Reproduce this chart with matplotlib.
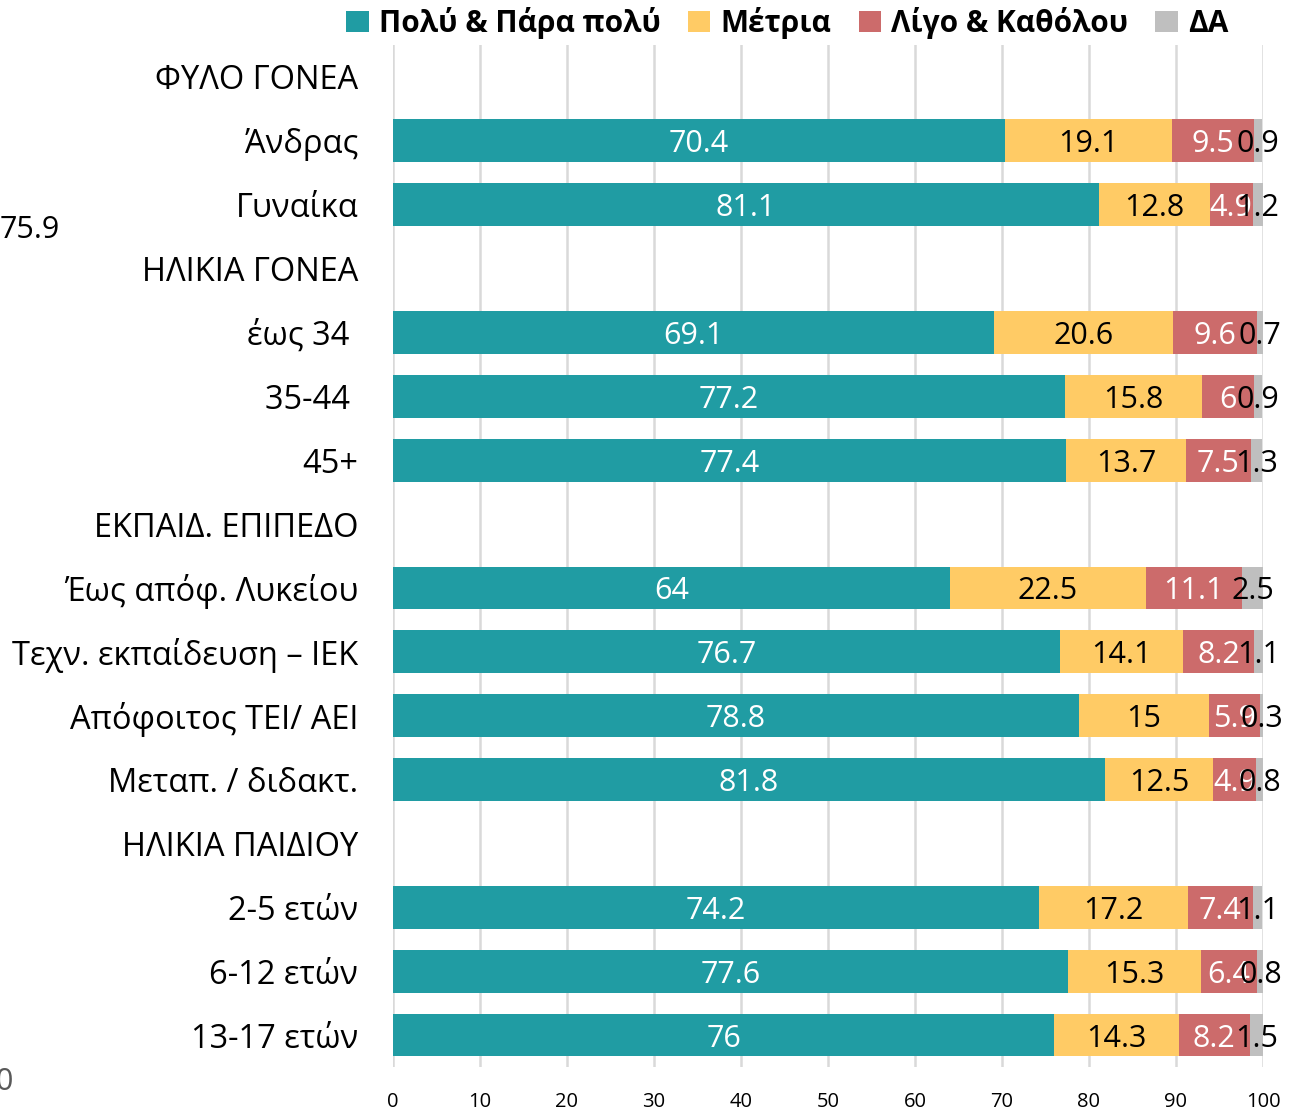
import matplotlib
matplotlib.use("Agg")
import matplotlib.pyplot as plt
from matplotlib.patches import Patch

plt.rcParams["font.family"] = ["Open Sans", "DejaVu Sans"]

# =============================================================================
# Data
# =============================================================================

labels = [
    "ΦΥΛΟ ΓΟΝΕΑ", "Άνδρας", "Γυναίκα",
    "ΗΛΙΚΙΑ ΓΟΝΕΑ", "έως 34 ", "35-44 ", "45+",
    "ΕΚΠΑΙΔ. ΕΠΙΠΕΔΟ", "Έως απόφ. Λυκείου", "Τεχν. εκπαίδευση – ΙΕΚ",
    "Απόφοιτος ΤΕΙ/ ΑΕΙ", "Μεταπ. / διδακτ.",
    "ΗΛΙΚΙΑ ΠΑΙΔΙΟΥ", "2-5 ετών", "6-12 ετών", "13-17 ετών",
]

# None = header row without a bar
poly   = [None, 70.4, 81.1, None, 69.1, 77.2, 77.4, None, 64, 76.7, 78.8, 81.8, None, 74.2, 77.6, 76]
metria = [None, 19.1, 12.8, None, 20.6, 15.8, 13.7, None, 22.5, 14.1, 15, 12.5, None, 17.2, 15.3, 14.3]
ligo   = [None, 9.5, 4.9, None, 9.6, 6, 7.5, None, 11.1, 8.2, 5.9, 4.9, None, 7.4, 6.4, 8.2]
da     = [None, 0.9, 1.2, None, 0.7, 0.9, 1.3, None, 2.5, 1.1, 0.3, 0.8, None, 1.1, 0.8, 1.5]

series_names = ["Πολύ & Πάρα πολύ", "Μέτρια", "Λίγο & Καθόλου", "ΔΑ"]
colors       = ["#209ca3", "#ffcb65", "#cc6b6b", "#bfbfbf"]
label_colors = ["white", "black", "white", "black"]

# =============================================================================
# Plot
# =============================================================================

fig = plt.figure(figsize=(12.91, 11.11), dpi=100)
ax = fig.add_axes([0.3044, 0.0396, 0.6739, 0.9199])

y_pos = list(range(len(labels)))

left = [0.0] * len(labels)
for vals, col, lcol in zip([poly, metria, ligo, da], colors, label_colors):
    for i, v in enumerate(vals):
        if v is None:
            continue
        ax.barh(i, v, left=left[i], height=0.67, color=col, zorder=3)
        ax.text(left[i] + v / 2, i, f"{v:g}", ha="center", va="center_baseline",
                color=lcol, fontsize=22, zorder=4)
        left[i] += v

ax.set_xlim(0, 100)
ax.set_ylim(len(labels) - 0.5, -0.5)
ax.set_xticks(range(0, 101, 10))
ax.set_yticks(y_pos)
ax.set_yticklabels(labels, fontsize=23.5)
ax.tick_params(axis="y", length=0, pad=25)
ax.tick_params(axis="x", length=0, pad=18, labelsize=14.5)
ax.grid(axis="x", color="#d9d9d9", linewidth=1.8, zorder=0)
for s in ax.spines.values():
    s.set_visible(False)

handles = [Patch(facecolor=c) for c in colors]
fig.legend(handles, series_names, loc="upper center", bbox_to_anchor=(0.61, 1.018),
           ncol=4, frameon=False, prop={"weight": "bold", "size": 21.5},
           handlelength=0.75, handleheight=0.75, handletextpad=0.35,
           columnspacing=0.9)

# stray labels left over at the figure edge
fig.text(60 / 1291, 1 - 226 / 1111, "75.9", ha="right", va="center_baseline", fontsize=22)
fig.text(13 / 1291, 1 - 1078 / 1111, "0", ha="right", va="center_baseline",
         fontsize=22, color="#595959")

fig.savefig("out.png", dpi=100)
